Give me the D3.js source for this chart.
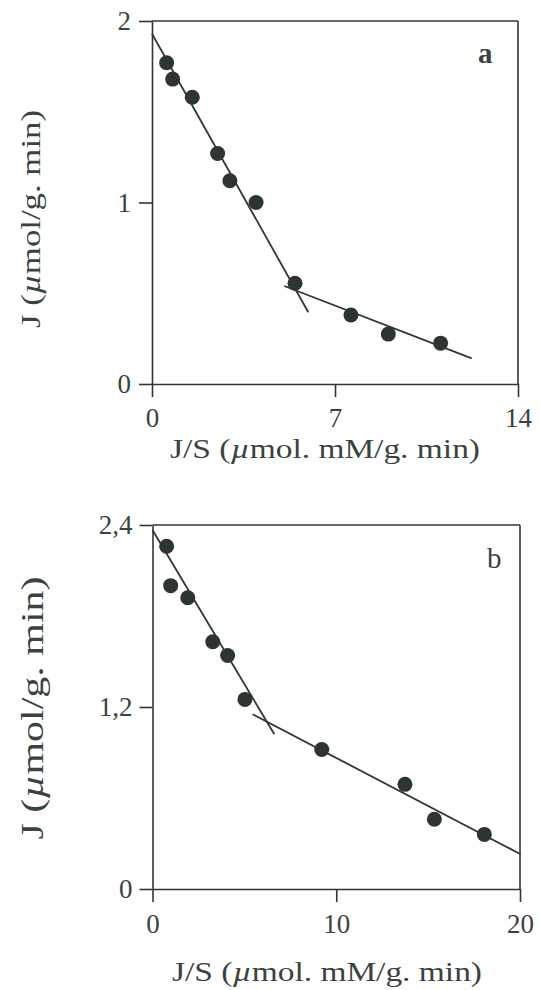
<!DOCTYPE html>
<html><head><meta charset="utf-8">
<script src="https://cdn.jsdelivr.net/npm/d3@7"></script>
<style>
html,body{margin:0;padding:0;background:#fff;}
svg{display:block;}
text{font-family:"Liberation Serif",serif;fill:#3b4341;}
</style></head>
<body>
<script>
// ---- data ----
const xTicksA = [0, 7, 14];
const yTicksA = [0, 1, 2];
const xA = [0.56, 0.79, 1.54, 2.51, 2.98, 3.98, 5.47, 7.61, 9.04, 11.04];
const yA = [1.77, 1.68, 1.58, 1.27, 1.12, 1.00, 0.555, 0.38, 0.275, 0.225];
const fitA1 = [[0, 1.93], [5.98, 0.395]];
const fitA2 = [[5.06, 0.54], [12.23, 0.141]];

const xTicksB = [0, 10, 20];
const yTicksB = [0, 1.2, 2.4];
const xB = [0.77, 0.99, 1.92, 3.28, 4.09, 5.03, 9.21, 13.74, 15.34, 18.06];
const yB = [2.26, 2.0, 1.92, 1.63, 1.54, 1.25, 0.92, 0.69, 0.46, 0.36];
const fitB1 = [[0, 2.367], [6.63, 1.02]];
const fitB2 = [[5.45, 1.152], [20.04, 0.229]];

const ink = "#2f3734", dot = "#2c3531";

const svg = d3.select("body").append("svg").attr("width", 540).attr("height", 990);
svg.append("rect").attr("width", 540).attr("height", 990).attr("fill", "#fff");

function panel(cfg) {
  const x = d3.scaleLinear().domain(cfg.xDom).range([cfg.left, cfg.right]);
  const y = d3.scaleLinear().domain(cfg.yDom).range([cfg.bottom, cfg.top]);
  const g = svg.append("g");
  const fmt = v => String(v).replace(".", ",");

  const ax = g.append("g").attr("transform", `translate(0,${cfg.bottom})`)
    .call(d3.axisBottom(x).tickValues(cfg.xTicks).tickSize(13).tickSizeOuter(0).tickPadding(cfg.xPad).tickFormat(fmt));
  const ay = g.append("g").attr("transform", `translate(${cfg.left},0)`)
    .call(d3.axisLeft(y).tickValues(cfg.yTicks).tickSize(13).tickSizeOuter(0).tickPadding(cfg.yPad).tickFormat(fmt));
  [ax, ay].forEach(a => {
    a.attr("font-family", null).attr("font-size", null);
    a.selectAll("path,line").attr("stroke", ink).attr("stroke-width", 1.6);
    a.selectAll("text").attr("font-size", 27).attr("fill", "#3b4341");
  });
  // top and right border
  g.append("line").attr("x1", cfg.left).attr("x2", cfg.right).attr("y1", cfg.top).attr("y2", cfg.top)
    .attr("stroke", ink).attr("stroke-width", 1.6);
  g.append("line").attr("x1", cfg.right).attr("x2", cfg.right).attr("y1", cfg.top).attr("y2", cfg.bottom)
    .attr("stroke", ink).attr("stroke-width", 1.6);

  // fit lines
  const line = d3.line().x(d => x(d[0])).y(d => y(d[1]));
  [cfg.fit1, cfg.fit2].forEach(f => {
    g.append("path").attr("d", line(f)).attr("fill", "none").attr("stroke", ink).attr("stroke-width", 1.8);
  });
  // points
  g.selectAll("circle.pt").data(cfg.xs.map((v, i) => [v, cfg.ys[i]])).join("circle")
    .attr("class", "pt").attr("cx", d => x(d[0])).attr("cy", d => y(d[1])).attr("r", 7.5).attr("fill", dot);

  // letter
  g.append("text").attr("x", cfg.letterX).attr("y", cfg.letterY).attr("font-size", 29)
    .attr("font-weight", cfg.letterBold ? "bold" : "normal").text(cfg.letter);

  // x title
  const xt = g.append("text").attr("x", cfg.xtX).attr("y", cfg.xtY).attr("text-anchor", "middle")
    .attr("font-size", 28).attr("textLength", cfg.xtLen).attr("lengthAdjust", "spacingAndGlyphs");
  xt.append("tspan").text("J/S (");
  xt.append("tspan").attr("font-style", "italic").text("\u00b5");
  xt.append("tspan").text("mol. mM/g. min)");

  // y title
  const yt = g.append("text").attr("transform", `translate(${cfg.ytX},${cfg.ytY}) rotate(-90)`)
    .attr("text-anchor", "middle").attr("font-size", cfg.ytSize)
    .attr("textLength", cfg.ytLen).attr("lengthAdjust", "spacingAndGlyphs");
  yt.append("tspan").text("J (");
  yt.append("tspan").attr("font-style", "italic").text("\u00b5");
  yt.append("tspan").text("mol/g. min)");
}

panel({
  xDom: [0, 14], yDom: [0, 2], left: 152, right: 518, top: 21, bottom: 384,
  xTicks: xTicksA, yTicks: yTicksA, xPad: 11, yPad: 8,
  xs: xA, ys: yA, fit1: fitA1, fit2: fitA2,
  letter: "a", letterX: 478, letterY: 63, letterBold: true,
  xtX: 325, xtY: 458, xtLen: 310,
  ytX: 40, ytY: 219, ytLen: 218, ytSize: 28
});

panel({
  xDom: [0, 20], yDom: [0, 2.4], left: 152.5, right: 520, top: 525, bottom: 889,
  xTicks: xTicksB, yTicks: yTicksB, xPad: 12, yPad: 7,
  xs: xB, ys: yB, fit1: fitB1, fit2: fitB2,
  letter: "b", letterX: 487, letterY: 568, letterBold: false,
  xtX: 327, xtY: 981, xtLen: 310,
  ytX: 43, ytY: 708, ytLen: 263, ytSize: 31
});
</script>
</body></html>
